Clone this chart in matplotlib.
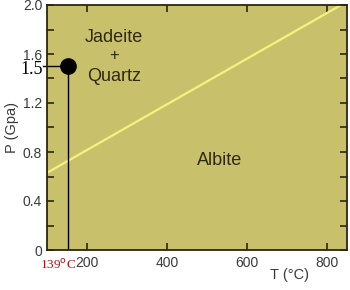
import matplotlib
matplotlib.use("Agg")
import matplotlib.pyplot as plt
from matplotlib.ticker import MultipleLocator, FixedFormatter, FixedLocator

plt.rcParams['font.family'] = ['Liberation Sans', 'DejaVu Sans']

# reaction boundary jadeite + quartz = albite
line_T = [100, 835]
line_P = [0.63, 2.0]

# marked point (drawn where the picture puts it)
pt_T = 152
pt_P = 1.5

x_ticks = [200, 400, 600, 800]
y_ticks = [0, 0.4, 0.8, 1.2, 1.6, 2.0]
y_labels = ["0", "0.4", "0.8", "1.2", "1.6", "2.0"]

bg = "#c9c06c"
fig = plt.figure(figsize=(3.5, 2.9), dpi=100)
ax = fig.add_axes([47 / 350, 40 / 290, 300 / 350, 245 / 290])
ax.set_facecolor(bg)
ax.set_xlim(100, 850)
ax.set_ylim(0, 2.0)

ax.plot(line_T, line_P, color="#f5f27e", lw=1.6, solid_capstyle="butt")

# marker with guide lines
ax.plot([pt_T, pt_T], [0, pt_P], color="black", lw=1)
ax.plot([90, pt_T], [pt_P, pt_P], color="black", lw=1, clip_on=False)
ax.plot(pt_T, pt_P, "o", color="black", ms=11)

ax.xaxis.set_major_locator(FixedLocator(x_ticks))
ax.yaxis.set_major_locator(FixedLocator(y_ticks))
ax.yaxis.set_major_formatter(FixedFormatter(y_labels))
ax.yaxis.set_minor_locator(MultipleLocator(0.2))
ax.tick_params(which="both", direction="in", top=True, right=True,
               length=5, width=1.2, color="#2a2710", labelsize=10,
               labelcolor="#3a3a3a")
ax.tick_params(axis="x", pad=4)
for s in ax.spines.values():
    s.set_color("#2a2710")
    s.set_linewidth(1.3)

txt = "#2e2a12"
ax.text(267, 1.735, "Jadeite", ha="center", va="center", fontsize=13, color=txt)
ax.text(267, 1.59, "+", ha="center", va="center", fontsize=12, color=txt)
ax.text(267, 1.42, "Quartz", ha="center", va="center", fontsize=13, color=txt)
ax.text(532, 0.73, "Albite", ha="center", va="center", fontsize=13, color=txt)

ax.set_ylabel("P (Gpa)", fontsize=10.5, color="#3a3a3a", labelpad=3)
ax.set_xlabel("T (\u00b0C)", fontsize=10.5, color="#3a3a3a", labelpad=0)
ax.xaxis.set_label_coords(0.81, -0.075)

fig.text(20 / 350, 1 - 70 / 290, "1.5", fontsize=13, family="Liberation Serif",
         color="black", va="center", ha="left")
fig.text(40 / 350, 1 - 265 / 290, "139$^{\\rm o}$C", fontsize=9.5,
         family="Liberation Serif", color="#b01010", va="center", ha="left")

fig.savefig("out.png", dpi=100)
